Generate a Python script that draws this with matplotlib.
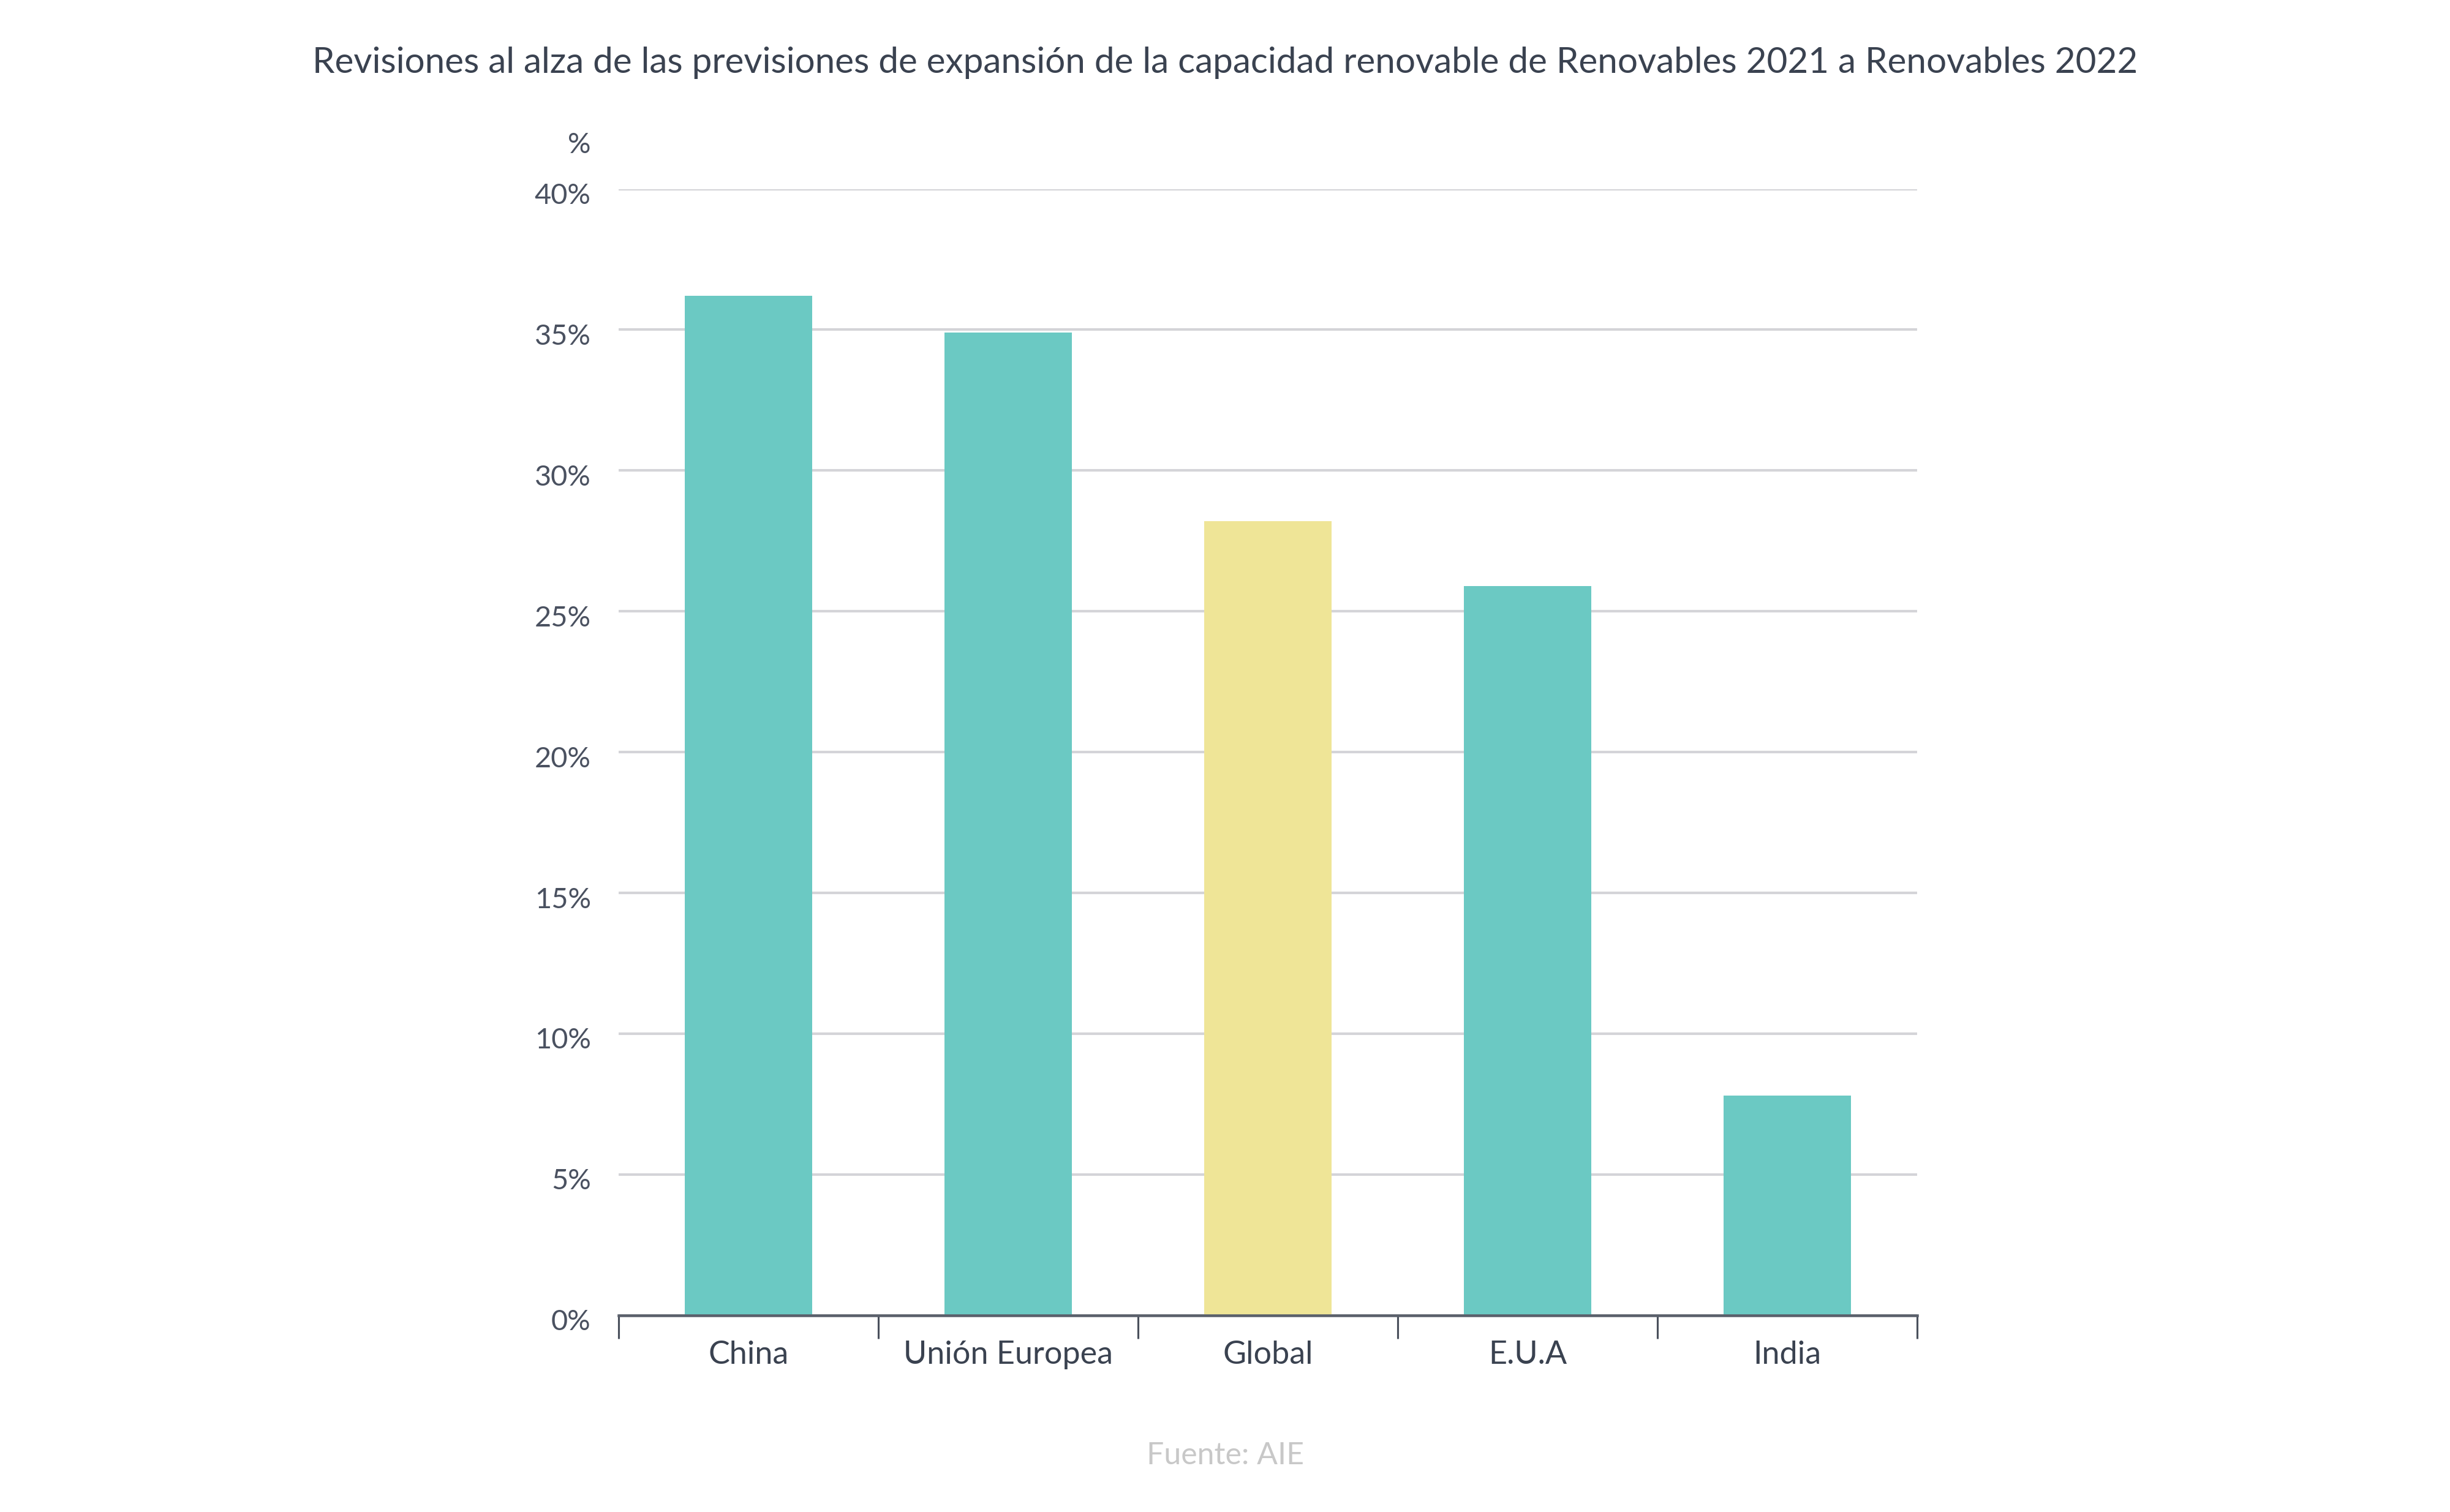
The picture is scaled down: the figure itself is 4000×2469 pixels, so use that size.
import matplotlib
matplotlib.use("Agg")
import matplotlib.pyplot as plt
import matplotlib.transforms as mtransforms
from matplotlib.ticker import FixedLocator

categories = ["China", "Unión Europea", "Global", "E.U.A", "India"]
values = [36.2, 34.9, 28.2, 25.9, 7.8]
bar_colors = ["#6BC9C3", "#6BC9C3", "#EFE597", "#6BC9C3", "#6BC9C3"]
yticks = [0, 5, 10, 15, 20, 25, 30, 35, 40]
ytick_labels = [f"{v}%" for v in yticks]
title = "Revisiones al alza de las previsiones de expansión de la capacidad renovable de Renovables 2021 a Renovables 2022"
source = "Fuente: AIE"

TXT = "#3a4250"
plt.rcParams["font.family"] = ["Lato", "DejaVu Sans"]

fig = plt.figure(figsize=(16, 2469 / 250), dpi=250)
ax = fig.add_axes([0.2525, 0.1302, 0.7825 - 0.2525, 0.875 - 0.1302])

x = list(range(len(categories)))
ax.bar(x, values, width=0.49, color=bar_colors, zorder=3)

ax.set_xlim(-0.5, len(categories) - 0.5)
ax.set_ylim(0, 40)
ax.set_yticks(yticks)
ax.set_yticklabels(ytick_labels, fontsize=13.5, color="#4a5160", fontweight="normal")
ax.tick_params(axis="y", length=0, pad=13)
ax.grid(axis="y", color="#d4d4d8", linewidth=1.2, zorder=0)
offset = mtransforms.ScaledTranslation(0, -2.2 / 72, fig.dpi_scale_trans)
for lbl in ax.get_yticklabels():
    lbl.set_transform(lbl.get_transform() + offset)

ax.set_xticks(x)
ax.set_xticklabels(categories, fontsize=15, color=TXT)
ax.tick_params(axis="x", which="major", length=0, pad=12)
ax.xaxis.set_minor_locator(FixedLocator([i - 0.5 for i in range(len(categories) + 1)]))
ax.tick_params(axis="x", which="minor", length=11, width=0.9, color="#4a505c", direction="out")

for s in ["top", "right", "left"]:
    ax.spines[s].set_visible(False)
ax.spines["bottom"].set_color("#5a606b")
ax.spines["bottom"].set_linewidth(1.3)
ax.spines["bottom"].set_zorder(4)

fig.text(378 / 1568, 1 - 93 / 968, "%", ha="right", va="center", fontsize=13.5,
         color="#4a5160")
fig.text(0.5, 1 - 40 / 968, title, ha="center", va="center", fontsize=16.8, color=TXT)
fig.text(0.5, 1 - 932 / 968, source, ha="center", va="center", fontsize=14.4,
         color="#c8c8c8")

fig.savefig("out.png", dpi=250, facecolor="white")
